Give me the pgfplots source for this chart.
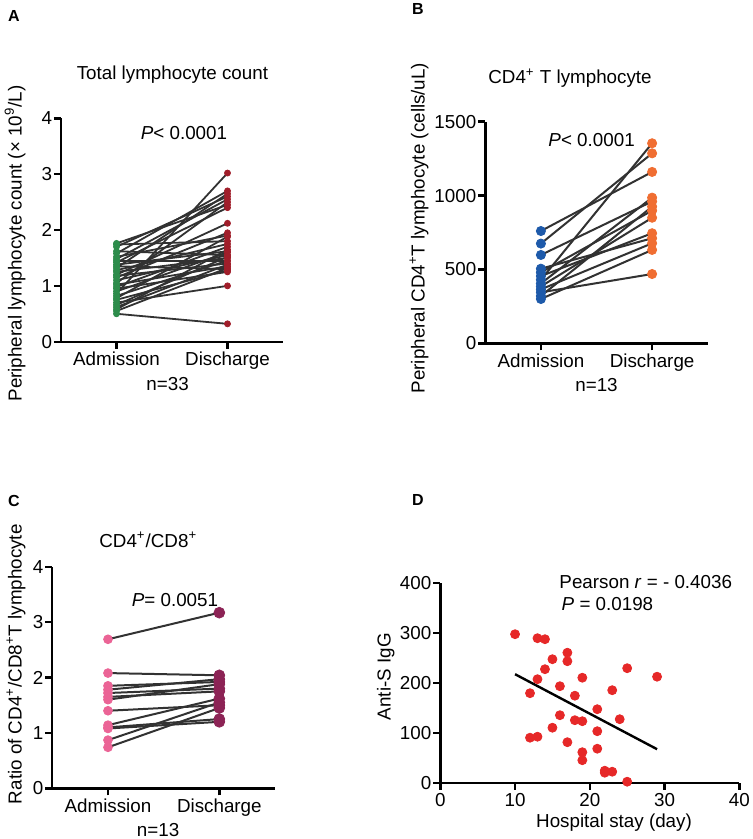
\documentclass[border=0pt]{standalone}
\usepackage{fontspec}
\setmainfont{Liberation Sans}
\usepackage{pgfplots}
\usepackage{pgfplotstable}
\pgfplotsset{compat=1.18}

\definecolor{lgray}{RGB}{50,50,50}
\definecolor{cgreen}{RGB}{45,140,75}
\definecolor{cdred}{RGB}{160,30,42}
\definecolor{cblue}{RGB}{30,90,170}
\definecolor{corange}{RGB}{240,110,50}
\definecolor{cpink}{RGB}{235,100,150}
\definecolor{cmag}{RGB}{140,35,85}
\definecolor{cred}{RGB}{230,40,40}

\pgfplotstableread{
adm dis
1.76 2.45
1.74 1.80
1.70 2.60
1.62 1.55
1.58 2.70
1.52 1.90
1.48 2.55
1.45 1.45
1.42 2.40
1.38 1.62
1.35 1.30
1.32 2.65
1.28 1.75
1.25 1.50
1.20 2.12
1.18 1.40
1.15 1.95
1.10 1.55
1.05 2.50
1.02 1.35
0.98 1.70
0.95 1.25
0.90 1.60
0.86 3.02
0.82 1.45
0.78 1.88
0.75 1.28
0.70 1.00
0.66 1.52
0.62 1.38
0.58 1.65
0.55 1.32
0.50 0.32
}\tblA

\pgfplotstableread{
adm dis
760 1160
675 1286
598 960
505 711
480 898
455 745
430 1354
405 986
385 850
365 677
345 469
320 925
300 632
}\tblB

\pgfplotstableread{
adm dis
2.69 3.17
2.08 2.04
1.85 1.92
1.78 1.97
1.72 1.80
1.65 1.75
1.60 1.88
1.40 1.50
1.14 1.62
1.10 1.25
1.08 1.20
0.87 1.55
0.74 1.45
}\tblC

\pgfplotstableread{
x y
10 297
13 289
14 287
17 260
17 243
15 247
14 227
13 207
12 179
16 193
19 210
18 174
25 229
29 212
23 185
21 147
24 127
18 125
19 123
16 135
21 103
15 110
12 90
13 92
17 81
21 68
19 61
19 45
22 24
22 20
23 22
25 2
}\tblD

\pgfplotsset{gp/.style={
  scale only axis, axis lines=left,
  axis line style={-, line width=1.2pt, black},
  tick align=outside, major tick length=3.5pt,
  tick style={line width=1.2pt, black},
  font=\fontsize{9.4pt}{11pt}\selectfont,
  /pgf/number format/assume math mode=true,
  /pgf/number format/1000 sep={},
  scaled ticks=false,
  ticklabel style={font=\fontsize{9.4pt}{11pt}\selectfont},
  yticklabel style={inner sep=0.8pt},
  xticklabel style={inner sep=1.5pt},
  clip=false,
  title style={anchor=center, inner sep=0pt},
  ylabel style={anchor=center, inner sep=0pt},
  xlabel style={anchor=center, inner sep=0pt},
}}

\begin{document}
\begin{tikzpicture}
\useasboundingbox (0,0) rectangle (376pt,-419.5pt);

% Panel letters
\node[font=\fontsize{8pt}{9pt}\selectfont\bfseries] at (7pt,-8pt) {A};
\node[font=\fontsize{8pt}{9pt}\selectfont\bfseries] at (209pt,-4.5pt) {B};
\node[font=\fontsize{8pt}{9pt}\selectfont\bfseries] at (7pt,-250.5pt) {C};
\node[font=\fontsize{8pt}{9pt}\selectfont\bfseries] at (209pt,-250pt) {D};

% ---------------- Panel A
\begin{axis}[gp, at={(30.5pt,-170.85pt)}, anchor=south west,
  width=111pt, height=111.7pt,
  xmin=0.5, xmax=2.5, ymin=0, ymax=4,
  xtick={1,2}, xticklabels={Admission,Discharge},
  ytick={0,1,2,3,4},
  title={Total lymphocyte count},
  title style={at={(axis description cs:0.502,1.143)}},
  ylabel={Peripheral lymphocyte count (× 10\textsuperscript{9}/L)},
  ylabel style={at={(axis description cs:-0.207,0.44)}},
  xlabel={n=33},
  xlabel style={at={(axis description cs:0.48,-0.19)}},
]
\addplot[quiver={u=1,v=\thisrow{dis}-\thisrow{adm}}, mark=none, draw=lgray, line width=0.9pt]
  table[x expr=1, y=adm]{\tblA};
\addplot[only marks, mark=*, mark size=1.5pt, mark options={draw=cgreen, fill=cgreen}]
  table[x expr=1, y=adm]{\tblA};
\addplot[only marks, mark=*, mark size=1.5pt, mark options={draw=cdred, fill=cdred}]
  table[x expr=2, y=dis]{\tblA};
\node at (axis cs:1.608,3.73) {\textit{P}< 0.0001};
\end{axis}

% ---------------- Panel B
\begin{axis}[gp, at={(242.65pt,-171.65pt)}, anchor=south west,
  width=111.2pt, height=110.8pt,
  xmin=0.5, xmax=2.5, ymin=0, ymax=1500,
  xtick={1,2}, xticklabels={Admission,Discharge},
  ytick={0,500,1000,1500},
  title={CD4\textsuperscript{+} T lymphocyte},
  title style={at={(axis description cs:0.381,1.143)}},
  ylabel={Peripheral CD4\textsuperscript{+}T lymphocyte (cells/uL)},
  ylabel style={at={(axis description cs:-0.298,0.52)}},
  xlabel={n=13},
  xlabel style={at={(axis description cs:0.5,-0.19)}},
]
\addplot[quiver={u=1,v=\thisrow{dis}-\thisrow{adm}}, mark=none, draw=lgray, line width=1pt]
  table[x expr=1, y=adm]{\tblB};
\addplot[only marks, mark=*, mark size=2.3pt, mark options={draw=cblue, fill=cblue}]
  table[x expr=1, y=adm]{\tblB};
\addplot[only marks, mark=*, mark size=2.3pt, mark options={draw=corange, fill=corange}]
  table[x expr=2, y=dis]{\tblB};
\node at (axis cs:1.456,1376) {\textit{P}< 0.0001};
\end{axis}

% ---------------- Panel C
\begin{axis}[gp, at={(26.15pt,-394.15pt)}, anchor=south west,
  width=111.35pt, height=110.8pt,
  xmin=0.5, xmax=2.5, ymin=0, ymax=4,
  xtick={1,2}, xticklabels={Admission,Discharge},
  ytick={0,1,2,3,4},
  title={CD4\textsuperscript{+}/CD8\textsuperscript{+}},
  title style={at={(axis description cs:0.431,1.068)}},
  ylabel={Ratio of CD4\textsuperscript{+}/CD8\textsuperscript{+}T lymphocyte},
  ylabel style={at={(axis description cs:-0.163,0.56)}},
  xlabel={n=13},
  xlabel style={at={(axis description cs:0.475,-0.188)}},
]
\addplot[quiver={u=1,v=\thisrow{dis}-\thisrow{adm}}, mark=none, draw=lgray, line width=1pt]
  table[x expr=1, y=adm]{\tblC};
\addplot[only marks, mark=*, mark size=2.2pt, mark options={draw=cpink, fill=cpink}]
  table[x expr=1, y=adm]{\tblC};
\addplot[only marks, mark=*, mark size=2.7pt, mark options={draw=cmag, fill=cmag}]
  table[x expr=2, y=dis]{\tblC};
\node at (axis cs:1.602,3.4) {\textit{P}= 0.0051};
\end{axis}

% ---------------- Panel D
\begin{axis}[gp, at={(220.15pt,-391.35pt)}, anchor=south west,
  width=149.5pt, height=100pt,
  xmin=0, xmax=40, ymin=0, ymax=400,
  xtick={0,10,20,30,40}, ytick={0,100,200,300,400},
  ylabel={Anti-S IgG},
  ylabel style={at={(axis description cs:-0.182,0.53)}},
  xlabel={Hospital stay (day)},
  xlabel style={at={(axis description cs:0.581,-0.2)}},
]
\addplot[only marks, mark=*, mark size=2.25pt, mark options={draw=cred, fill=cred}]
  table[x=x, y=y]{\tblD};
\addplot[black, line width=1.2pt, mark=none] coordinates {(10,217) (29,67)};
\node[anchor=west] at (axis cs:15.0,402) {Pearson \textit{r} = - 0.4036};
\node[anchor=west] at (axis cs:15.3,357) {\textit{P} = 0.0198};
\end{axis}
\end{tikzpicture}
\end{document}
